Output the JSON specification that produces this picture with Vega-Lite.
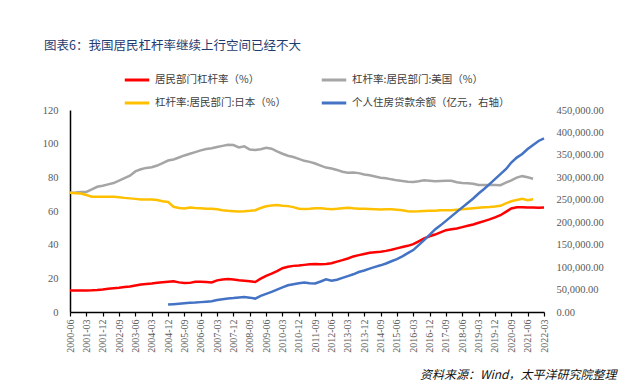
{
  "$schema": "https://vega.github.io/schema/vega-lite/v6.json",
  "width": 474,
  "height": 202,
  "autosize": {"type": "none"},
  "padding": {"left": 70, "top": 110, "right": 90, "bottom": 74},
  "background": "white",
  "title": {"text": "图表6：我国居民杠杆率继续上行空间已经不大", "anchor": "start", "frame": "group", "dx": -26, "offset": 14, "font": "Noto Sans CJK SC", "fontSize": 12.5, "fontWeight": "normal", "color": "#1F3B6E"},
  "data": {"values": [
    {"d":"2000-06","r":12.7,"g":70.8,"y":70.8},
    {"d":"2000-09","r":12.7,"g":71.0,"y":70.6},
    {"d":"2000-12","r":12.8,"g":71.3,"y":70.4},
    {"d":"2001-03","r":12.8,"g":71.3,"y":69.5},
    {"d":"2001-06","r":12.9,"g":72.8,"y":68.5},
    {"d":"2001-09","r":13.1,"g":74.4,"y":68.4},
    {"d":"2001-12","r":13.4,"g":75.0,"y":68.5},
    {"d":"2002-03","r":13.8,"g":75.8,"y":68.4},
    {"d":"2002-06","r":14.1,"g":76.6,"y":68.4},
    {"d":"2002-09","r":14.4,"g":78.0,"y":68.2},
    {"d":"2002-12","r":14.8,"g":79.5,"y":67.8},
    {"d":"2003-03","r":15.2,"g":81.0,"y":67.5},
    {"d":"2003-06","r":15.8,"g":83.5,"y":67.2},
    {"d":"2003-09","r":16.3,"g":84.8,"y":66.9},
    {"d":"2003-12","r":16.7,"g":85.6,"y":66.9},
    {"d":"2004-03","r":17.0,"g":86.0,"y":66.9},
    {"d":"2004-06","r":17.4,"g":87.0,"y":66.5},
    {"d":"2004-09","r":17.7,"g":88.5,"y":65.8},
    {"d":"2004-12","r":18.0,"g":90.0,"y":65.4,"b":16500},
    {"d":"2005-03","r":18.2,"g":90.6,"y":62.5,"b":17500},
    {"d":"2005-06","r":17.6,"g":91.8,"y":61.8,"b":18500},
    {"d":"2005-09","r":17.2,"g":93.0,"y":61.5,"b":19500},
    {"d":"2005-12","r":17.3,"g":94.0,"y":62.1,"b":20500},
    {"d":"2006-03","r":17.9,"g":95.0,"y":61.8,"b":21000},
    {"d":"2006-06","r":18.0,"g":96.0,"y":61.6,"b":22000},
    {"d":"2006-09","r":17.8,"g":96.8,"y":61.4,"b":23000},
    {"d":"2006-12","r":17.6,"g":97.3,"y":61.3,"b":24000},
    {"d":"2007-03","r":18.8,"g":98.0,"y":61.0,"b":26500},
    {"d":"2007-06","r":19.3,"g":98.7,"y":60.5,"b":28500},
    {"d":"2007-09","r":19.6,"g":99.3,"y":60.1,"b":30000},
    {"d":"2007-12","r":19.3,"g":99.2,"y":59.9,"b":31000},
    {"d":"2008-03","r":18.9,"g":97.8,"y":59.7,"b":32500},
    {"d":"2008-06","r":18.6,"g":98.4,"y":59.8,"b":33500},
    {"d":"2008-09","r":18.3,"g":96.5,"y":60.1,"b":32000},
    {"d":"2008-12","r":17.8,"g":96.2,"y":60.5,"b":29900},
    {"d":"2009-03","r":19.8,"g":96.7,"y":61.8,"b":36000},
    {"d":"2009-06","r":21.5,"g":97.6,"y":62.8,"b":40500},
    {"d":"2009-09","r":22.8,"g":97.0,"y":63.3,"b":45000},
    {"d":"2009-12","r":24.3,"g":95.4,"y":63.5,"b":50000},
    {"d":"2010-03","r":26.0,"g":94.0,"y":63.1,"b":55000},
    {"d":"2010-06","r":26.9,"g":92.8,"y":62.9,"b":59600},
    {"d":"2010-09","r":27.4,"g":92.1,"y":62.3,"b":62000},
    {"d":"2010-12","r":27.6,"g":91.0,"y":61.4,"b":64000},
    {"d":"2011-03","r":28.0,"g":89.8,"y":61.2,"b":65600},
    {"d":"2011-06","r":28.4,"g":89.2,"y":61.4,"b":64000},
    {"d":"2011-09","r":28.5,"g":88.2,"y":61.7,"b":63400},
    {"d":"2011-12","r":28.3,"g":87.0,"y":61.6,"b":68000},
    {"d":"2012-03","r":28.5,"g":85.8,"y":61.3,"b":73000},
    {"d":"2012-06","r":29.0,"g":85.2,"y":61.1,"b":69500},
    {"d":"2012-09","r":29.9,"g":84.4,"y":61.3,"b":72000},
    {"d":"2012-12","r":30.8,"g":83.3,"y":61.7,"b":76000},
    {"d":"2013-03","r":31.8,"g":82.7,"y":61.9,"b":80000},
    {"d":"2013-06","r":33.0,"g":82.9,"y":61.6,"b":84000},
    {"d":"2013-09","r":33.8,"g":82.5,"y":61.4,"b":89000},
    {"d":"2013-12","r":34.5,"g":81.7,"y":61.3,"b":92400},
    {"d":"2014-03","r":35.2,"g":81.2,"y":61.2,"b":96500},
    {"d":"2014-06","r":35.5,"g":80.5,"y":61.1,"b":100500},
    {"d":"2014-09","r":35.8,"g":79.8,"y":60.9,"b":104000},
    {"d":"2014-12","r":36.3,"g":79.5,"y":61.0,"b":108000},
    {"d":"2015-03","r":37.0,"g":78.8,"y":61.0,"b":113000},
    {"d":"2015-06","r":37.8,"g":78.2,"y":60.8,"b":118000},
    {"d":"2015-09","r":38.6,"g":77.8,"y":60.4,"b":124000},
    {"d":"2015-12","r":39.3,"g":77.4,"y":59.8,"b":131000},
    {"d":"2016-03","r":40.3,"g":77.3,"y":59.7,"b":138000},
    {"d":"2016-06","r":42.0,"g":77.7,"y":59.8,"b":149000},
    {"d":"2016-09","r":43.7,"g":78.3,"y":60.0,"b":160000},
    {"d":"2016-12","r":45.0,"g":78.0,"y":60.1,"b":172000},
    {"d":"2017-03","r":46.0,"g":77.7,"y":60.2,"b":184000},
    {"d":"2017-06","r":47.3,"g":77.8,"y":60.4,"b":193000},
    {"d":"2017-09","r":48.6,"g":77.9,"y":60.5,"b":203000},
    {"d":"2017-12","r":49.1,"g":77.9,"y":60.5,"b":213000},
    {"d":"2018-03","r":49.6,"g":77.1,"y":60.8,"b":223000},
    {"d":"2018-06","r":50.4,"g":76.7,"y":61.1,"b":233000},
    {"d":"2018-09","r":51.2,"g":76.5,"y":61.4,"b":243000},
    {"d":"2018-12","r":52.0,"g":76.2,"y":61.7,"b":253000},
    {"d":"2019-03","r":53.0,"g":75.5,"y":62.0,"b":264000},
    {"d":"2019-06","r":54.0,"g":75.4,"y":62.2,"b":274000},
    {"d":"2019-09","r":55.0,"g":75.4,"y":62.4,"b":285000},
    {"d":"2019-12","r":56.2,"g":75.4,"y":62.7,"b":296000},
    {"d":"2020-03","r":57.5,"g":75.3,"y":63.1,"b":307000},
    {"d":"2020-06","r":59.5,"g":76.8,"y":64.5,"b":318000},
    {"d":"2020-09","r":61.5,"g":78.2,"y":65.8,"b":333000},
    {"d":"2020-12","r":62.2,"g":79.8,"y":66.5,"b":344000},
    {"d":"2021-03","r":62.2,"g":80.7,"y":67.2,"b":352000},
    {"d":"2021-06","r":62.1,"g":80.0,"y":66.4,"b":363000},
    {"d":"2021-09","r":62.1,"g":79.2,"y":67.0,"b":372000},
    {"d":"2021-12","r":62.0,"b":381000},
    {"d":"2022-03","r":62.1,"b":387000}
  ]},
  "transform": [
    {"fold": ["r", "g", "y", "b"], "as": ["k", "v"]},
    {"filter": "isValid(datum.v)"}
  ],
  "layer": [
    {
      "transform": [{"filter": "datum.k != 'b'"}],
      "mark": {"type": "line", "strokeWidth": 2.5},
      "encoding": {
        "x": {
          "field": "d", "type": "ordinal",
          "scale": {"type": "point", "padding": 0},
          "axis": {
            "values": ["2000-06","2001-03","2001-12","2002-09","2003-06","2004-03","2004-12","2005-09","2006-06","2007-03","2007-12","2008-09","2009-06","2010-03","2010-12","2011-09","2012-06","2013-03","2013-12","2014-09","2015-06","2016-03","2016-12","2017-09","2018-06","2019-03","2019-12","2020-09","2021-06","2022-03"],
            "labelAngle": 270,
            "labelFont": "Liberation Serif",
            "labelFontSize": 10,
            "labelColor": "#595959",
            "labelPadding": 3,
            "tickColor": "#000000",
            "tickSize": 4,
            "tickWidth": 1.2,
            "domainColor": "#000000",
            "domainWidth": 1.5,
            "grid": false,
            "title": "资料来源：Wind，太平洋研究院整理",
            "titleFont": "Noto Sans CJK SC",
            "titleFontStyle": "italic",
            "titleFontSize": 12,
            "titleFontWeight": "normal",
            "titleColor": "#111111",
            "titleAnchor": "end",
            "titleAlign": "right",
            "titleBaseline": "alphabetic",
            "titleX": 546,
            "titleY": 66
          }
        },
        "y": {
          "field": "v", "type": "quantitative",
          "scale": {"domain": [0, 120]},
          "axis": {
            "values": [0, 20, 40, 60, 80, 100, 120],
            "grid": false,
            "ticks": false,
            "domainColor": "#000000",
            "domainWidth": 1.5,
            "labelFont": "Liberation Serif",
            "labelFontSize": 10.5,
            "labelColor": "#595959",
            "labelPadding": 12,
            "title": null
          }
        },
        "color": {
          "field": "k", "type": "nominal",
          "scale": {"domain": ["r", "y", "g", "b"], "range": ["#FF0000", "#FFC000", "#A5A5A5", "#4472C4"]},
          "legend": {
            "orient": "none",
            "legendX": 53,
            "legendY": -44,
            "columns": 2,
            "columnPadding": 28,
            "rowPadding": 3,
            "symbolType": "M-1,0L1,0",
            "symbolStrokeWidth": 3,
            "symbolSize": 600,
            "labelFont": "Noto Sans CJK SC",
            "labelFontSize": 10.5,
            "labelColor": "#404040",
            "labelLimit": 300,
            "title": null,
            "labelExpr": "datum.label == 'r' ? '居民部门杠杆率（%）' : datum.label == 'g' ? '杠杆率:居民部门:美国（%）' : datum.label == 'y' ? '杠杆率:居民部门:日本（%）' : '个人住房贷款余额（亿元，右轴）'"
          }
        }
      }
    },
    {
      "transform": [{"filter": "datum.k == 'b'"}],
      "mark": {"type": "line", "strokeWidth": 2.5},
      "encoding": {
        "x": {"field": "d", "type": "ordinal"},
        "y": {
          "field": "v", "type": "quantitative",
          "scale": {"domain": [0, 450000]},
          "axis": {
            "orient": "right",
            "values": [0, 50000, 100000, 150000, 200000, 250000, 300000, 350000, 400000, 450000],
            "format": ",.2f",
            "grid": false,
            "ticks": false,
            "domain": false,
            "labelFont": "Liberation Serif",
            "labelFontSize": 10.5,
            "labelColor": "#595959",
            "labelPadding": 12,
            "title": null
          }
        },
        "color": {"field": "k", "type": "nominal"}
      }
    }
  ],
  "resolve": {"scale": {"y": "independent"}},
  "config": {"view": {"stroke": null}}
}
